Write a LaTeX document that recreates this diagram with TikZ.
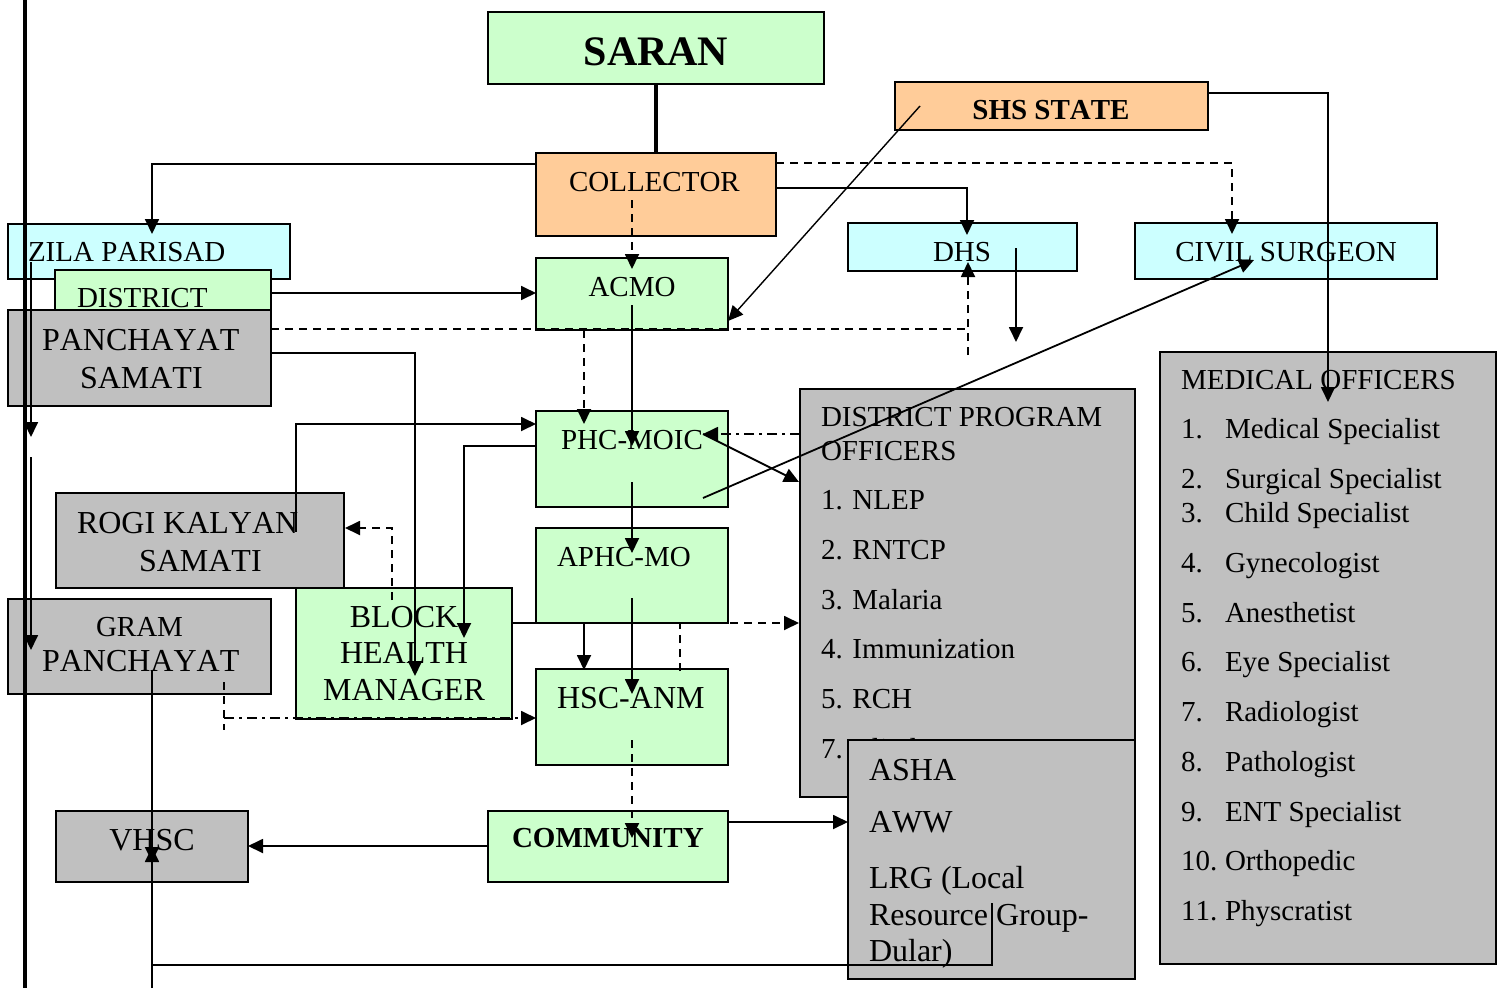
\documentclass[tikz,border=0pt]{standalone}
\usepackage{fontspec}
\setmainfont{Liberation Serif}[Kerning=Off]
\usetikzlibrary{arrows.meta,fit}
\definecolor{boxgreen}{HTML}{CCFFCC}
\definecolor{boxorange}{HTML}{FFCC99}
\definecolor{boxcyan}{HTML}{CCFFFF}
\definecolor{boxgray}{HTML}{C0C0C0}
\begin{document}
\begin{tikzpicture}[x=1pt,y=-1pt,
  box/.style={draw=black,line width=2pt,inner sep=0pt,outer sep=0pt},
  gbox/.style={box,fill=boxgreen},
  obox/.style={box,fill=boxorange},
  cbox/.style={box,fill=boxcyan},
  sbox/.style={box,fill=boxgray},
  lbl/.style={font=\fontsize{29}{35}\selectfont,inner sep=0pt,outer sep=0pt},
  big/.style={lbl,font=\fontsize{32}{38}\selectfont},
  blbl/.style={lbl,font=\fontsize{29}{35}\selectfont\bfseries},
  conn/.style={line width=1.8pt},
  tip/.style={-{Triangle[length=15pt,width=14pt]}},
  dsh/.style={dash pattern=on 8pt off 6pt},
  dshdot/.style={dash pattern=on 10pt off 5pt on 3pt off 5pt},
  heavy/.style={line width=4.5pt}]
\useasboundingbox (0,0) rectangle (1502,988);

% ---------- boxes ----------
\node[gbox,fit={(488,12) (824,84)}] (saran) {};
\node[obox,fit={(895,82) (1208,130)}] (shs) {};
\node[obox,fit={(536,153) (776,236)}] (collector) {};
\node[cbox,fit={(8,224) (290,279)}] (zila) {};
\node[gbox,fit={(55,270) (271,310)}] (district) {};
\node[sbox,fit={(8,310) (271,406)}] (psamati) {};
\node[gbox,fit={(536,258) (728,330)}] (acmo) {};
\node[cbox,fit={(848,223) (1077,271)}] (dhs) {};
\node[cbox,fit={(1135,223) (1437,279)}] (civil) {};
\node[sbox,fit={(1160,352) (1496,964)}] (mo) {};
\node[gbox,fit={(536,411) (728,507)}] (phc) {};
\node[sbox,fit={(800,389) (1135,797)}] (dpo) {};
\node[sbox,fit={(56,493) (344,588)}] (rogi) {};
\node[sbox,fit={(8,599) (271,694)}] (gram) {};
\node[gbox,fit={(296,588) (512,719)}] (bhm) {};
\node[gbox,fit={(536,528) (728,623)}] (aphc) {};
\node[gbox,fit={(536,669) (728,765)}] (hsc) {};
\node[gbox,fit={(488,811) (728,882)}] (community) {};
\node[sbox,fit={(56,811) (248,882)}] (vhsc) {};

% ---------- labels ----------
\node[lbl,anchor=base,font=\fontsize{42}{48}\selectfont\bfseries] (saranT) at (656,65) {SARAN};
\node[blbl,anchor=base] (shsT) at (1051,119) {SHS STATE};
\node[lbl,anchor=base west] (collectorT) at (569,191) {COLLECTOR};
\node[lbl,anchor=base west] (zilaT) at (28,261) {ZILA PARISAD};
\node[lbl,anchor=base west] (districtT) at (77,307) {DISTRICT};
\node[big,anchor=base west] (psamatiT1) at (42,350) {PANCHAYAT};
\node[big,anchor=base west] (psamatiT2) at (80,388) {SAMATI};
\node[lbl,anchor=base] (acmoT) at (632,296) {ACMO};
\node[lbl,anchor=base] (dhsT) at (962,261) {DHS};
\node[lbl,anchor=base] (civilT) at (1286,261) {CIVIL SURGEON};
\node[lbl,anchor=base] (phcT) at (632,449) {PHC-MOIC};
\node[lbl,anchor=base west] (aphcT) at (557,566) {APHC-MO};
\node[big,anchor=base west] (hscT) at (557,708) {HSC-ANM};
\node[blbl,anchor=base west] (communityT) at (512,847) {COMMUNITY};
\node[big,anchor=base] (vhscT) at (152,850) {VHSC};
\node[big,anchor=base west] (rogiT1) at (77,533) {ROGI KALYAN};
\node[big,anchor=base west] (rogiT2) at (139,571) {SAMATI};
\node[lbl,anchor=base west] (gramT1) at (96,636) {GRAM};
\node[big,anchor=base west] (gramT2) at (42,671) {PANCHAYAT};
\node[big,anchor=base] (bhmT1) at (404,627) {BLOCK};
\node[big,anchor=base] (bhmT2) at (404,663) {HEALTH};
\node[big,anchor=base] (bhmT3) at (404,700) {MANAGER};

% district programme officers
\node[lbl,anchor=base west] (dpoT1) at (821,426) {DISTRICT PROGRAM};
\node[lbl,anchor=base west] (dpoT2) at (821,460) {OFFICERS};
\node[lbl,anchor=base west] (dpo1) at (821,509) {1. NLEP};
\node[lbl,anchor=base west] (dpo2) at (821,559) {2. RNTCP};
\node[lbl,anchor=base west] (dpo3) at (821,609) {3. Malaria};
\node[lbl,anchor=base west] (dpo4) at (821,658) {4. Immunization};
\node[lbl,anchor=base west] (dpo5) at (821,708) {5. RCH};
\node[lbl,anchor=base west] (dpo7) at (821,758) {7. Blindness};

% grass-roots workers box sits over the programme list
\node[sbox,fit={(848,740) (1135,979)}] (asha) {};
\node[big,anchor=base west] (ashaT1) at (869,780) {ASHA};
\node[big,anchor=base west] (ashaT2) at (869,832) {AWW};
\node[big,anchor=base west] (ashaT3) at (869,888) {LRG (Local};
\node[big,anchor=base west] (ashaT4) at (869,925) {Resource Group-};
\node[big,anchor=base west] (ashaT5) at (869,961) {Dular)};

% medical officers list
\node[lbl,anchor=base west] (moT) at (1181,389) {MEDICAL OFFICERS};
\foreach \n/\t/\yy in {1/Medical Specialist/438, 2/Surgical Specialist/488,
    3/Child Specialist/522, 4/Gynecologist/572, 5/Anesthetist/622,
    6/Eye Specialist/671, 7/Radiologist/721, 8/Pathologist/771,
    9/ENT Specialist/821, 10/Orthopedic/870, 11/Physcratist/920} {
  \node[lbl,anchor=base west] (moN\n) at (1181,\yy) {\n.};
  \node[lbl,anchor=base west] (moI\n) at (1225,\yy) {\t};
}

% ---------- connector end points ----------
\coordinate (railTop) at (25,0);
\coordinate (railBot) at (25,988);
\coordinate (zA) at (31,262);   \coordinate (zB) at (31,437);
\coordinate (zC) at (31,457);   \coordinate (zD) at (31,650);
\coordinate (colW) at (536,164);  \coordinate (zilaIn) at (152,234);
\coordinate (colIn) at (632,200); \coordinate (acmoTop) at (632,269);
\coordinate (colE) at (776,188);  \coordinate (dhsTop) at (967,235);
\coordinate (colE2) at (776,163); \coordinate (civilTop) at (1232,234);
\coordinate (shsIn) at (920,106); \coordinate (acmoE) at (728,321);
\coordinate (shsE) at (1208,93);  \coordinate (moIn) at (1328,402);
\coordinate (distE) at (271,293); \coordinate (acmoW) at (536,293);
\coordinate (psE) at (271,329);   \coordinate (dhsJoin) at (968,329);
\coordinate (dhsLow) at (968,355); \coordinate (dhsBot) at (968,262);
\coordinate (dhsIn) at (1016,248); \coordinate (dhsOut) at (1016,342);
\coordinate (acmoB) at (584,330); \coordinate (phcTop) at (584,424);
\coordinate (acmoIn) at (632,305); \coordinate (phcIn) at (632,446);
\coordinate (psE2) at (271,353);  \coordinate (bhmIn1) at (415,676);
\coordinate (rogiIn) at (296,532); \coordinate (phcW1) at (536,424);
\coordinate (phcW2) at (536,446); \coordinate (bhmIn2) at (464,638);
\coordinate (bhmIn3) at (392,600); \coordinate (rogiE) at (345,528);
\coordinate (bhmE) at (512,623);  \coordinate (hscTop) at (584,670);
\coordinate (phcIn2) at (632,482); \coordinate (aphcIn) at (632,553);
\coordinate (aphcIn2) at (632,598); \coordinate (hscIn) at (632,694);
\coordinate (hscTop2) at (680,671); \coordinate (dpoW) at (799,623);
\coordinate (dpoW2) at (800,434); \coordinate (phcPt) at (703,434);
\coordinate (dpoW3) at (799,482);
\coordinate (phcIn3) at (703,498); \coordinate (civilIn) at (1254,260);
\coordinate (hscIn2) at (632,740); \coordinate (commIn) at (632,838);
\coordinate (gramA) at (224,682); \coordinate (gramB) at (224,730);
\coordinate (gramC) at (224,718); \coordinate (hscW) at (536,718);
\coordinate (commW) at (488,846); \coordinate (vhscE) at (248,846);
\coordinate (commE) at (728,822); \coordinate (ashaW) at (848,822);
\coordinate (gramIn) at (152,671); \coordinate (vhscDown) at (152,862);
\coordinate (ashaIn) at (992,903); \coordinate (footL) at (152,965);
\coordinate (pageBot) at (152,988); \coordinate (vhscUp) at (152,847);

% ---------- connectors ----------
\draw[heavy] (saran.south) -- (collector.north);
\draw[heavy] (railTop) -- (railBot);
\draw[conn,tip] (zA) -- (zB);
\draw[conn,tip] (zC) -- (zD);

\draw[conn,tip] (colW) -| (zilaIn);
\draw[conn,tip,dsh] (colIn) -- (acmoTop);
\draw[conn,tip] (colE) -| (dhsTop);
\draw[conn,tip,dsh] (colE2) -| (civilTop);
\draw[line width=1.4pt,tip] (shsIn) -- (acmoE);
\draw[conn,tip] (shsE) -| (moIn);
\draw[conn,tip] (distE) -- (acmoW);
\draw[conn,dsh] (psE) -- (dhsJoin);
\draw[conn,tip,dsh] (dhsLow) -- (dhsBot);
\draw[conn,tip] (dhsIn) -- (dhsOut);
\draw[conn,tip,dsh] (acmoB) -- (phcTop);
\draw[conn,tip] (acmoIn) -- (phcIn);
\draw[conn,tip] (psE2) -| (bhmIn1);
\draw[conn,tip] (rogiIn) |- (phcW1);
\draw[conn,tip] (phcW2) -| (bhmIn2);
\draw[conn,tip,dsh] (bhmIn3) |- (rogiE);
\draw[conn,tip] (bhmE) -| (hscTop);
\draw[conn,tip] (phcIn2) -- (aphcIn);
\draw[conn,tip] (aphcIn2) -- (hscIn);
\draw[conn,tip,dsh] (hscTop2) |- (dpoW);
\draw[conn,tip,dshdot] (dpoW2) -- (phcPt);
\draw[conn,tip] (phcPt) -- (dpoW3);
\draw[conn,tip] (phcIn3) -- (civilIn);
\draw[conn,tip,dsh] (hscIn2) -- (commIn);
\draw[conn,dsh] (gramA) -- (gramB);
\draw[conn,tip,dshdot] (gramC) -- (hscW);
\draw[conn,tip] (commW) -- (vhscE);
\draw[conn,tip] (commE) -- (ashaW);
\draw[conn,tip] (gramIn) -- (vhscDown);
\draw[conn] (ashaIn) |- (footL);
\draw[conn,tip] (pageBot) -- (vhscUp);
\end{tikzpicture}
\end{document}
